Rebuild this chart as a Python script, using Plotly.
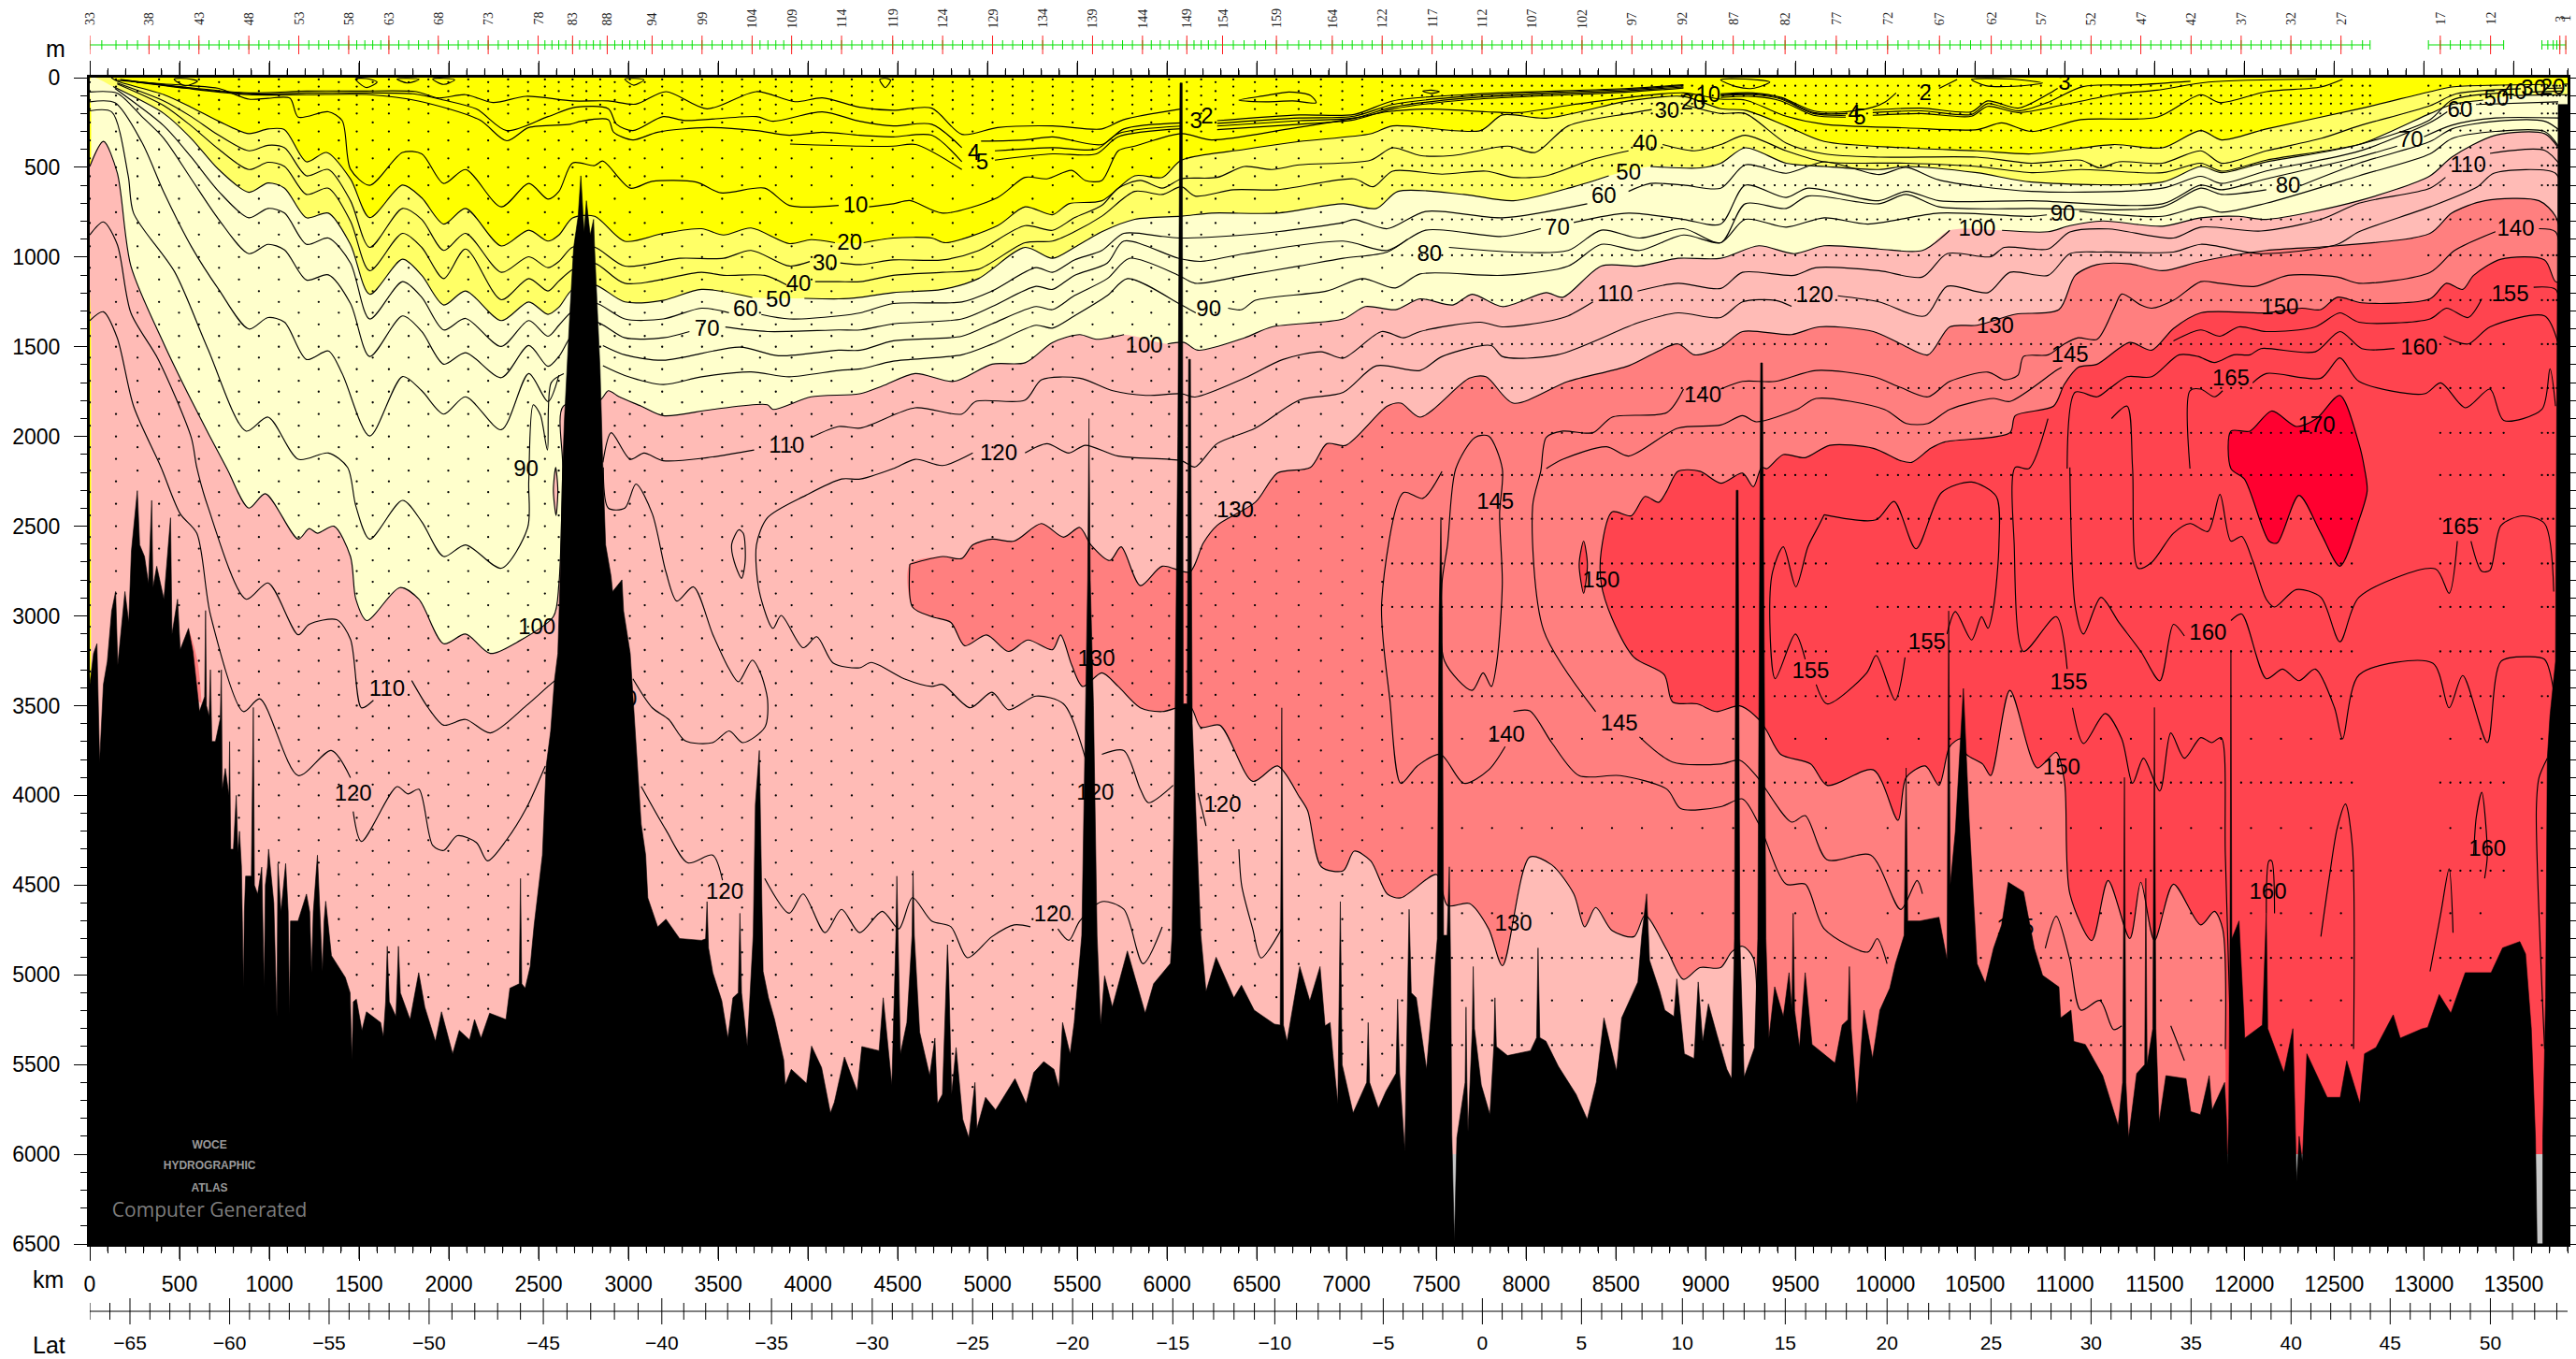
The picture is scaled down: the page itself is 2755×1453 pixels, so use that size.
import numpy as np
import plotly.graph_objects as go

# ---------- colours ----------
BRIGHT, MID, PALE, PINK, SALMON, RED, CRIMSON, GREY = ("#FFFF00", "#FFFF66", "#FFFFCC", "#FFBBB6",
                                                        "#FF7F7F", "#FF444F", "#FF0030", "#C8C8C8")
# ---------- isolines (km, depth m); None = gap in the drawn line ----------
C2 = [(170,10),(500,50),(886,85),(1207,75),(1500,75),(1818,78),(1941,113),(2093,95),(2246,139),(2430,104),(2689,130),(2888,130),(3041,148),(3209,78),(3438,174),(3713,78),(3927,134),(4080,113),(4288,165),(4475,182),(4689,170),(4857,316),(5056,278),(5362,269),(5637,286),(5759,234),(6080,174),None,(6279,240),(6737,208),(7042,205),(7256,130),(7654,95),(8570,60),(8876,40),None,(9083,90),(9265,85),(9420,110),(9600,185),(9780,190),(9930,165),(10000,135),(10060,85),None,(10300,60),(10400,10)]
C3 = [(200,15),(520,55),(886,90),(1207,85),(1500,85),(1800,90),(1971,125),(2154,175),(2322,295),(2552,217),(2705,165),(2888,173),(2934,260),(3025,295),(3194,217),(3316,239),(3713,217),(3805,243),(4080,191),(4288,243),(4475,269),(4689,260),(4857,390),None,(4964,354),(5209,347),(5362,330),(5637,373),(5759,286),(6080,252),None,(6279,255),(6737,225),(7042,215),(7256,150),(7654,105),(8570,65),(8876,45),None,(9083,95),(9265,90),(9420,115),(9600,195),(9780,200),None,(9930,180),(10200,170),(10480,190),(10570,130),(10740,170),(10910,90),(10960,60)]
C4 = [(230,20),(540,60),(886,95),(1207,95),(1560,95),(1830,130),(2170,235),(2322,352),(2445,278),(2674,260),(2735,243),(2888,234),(2918,304),(3025,347),(3163,304),(3438,278),(3713,295),(3896,321),(4080,304),(4288,321),(4475,330),(4689,321),(4857,469),None,(5041,408),(5362,390),(5606,399),(5728,312),(6080,270),None,(6279,270),(6737,240),(7042,225),(7256,165),(7654,115),(8570,72),(8876,52),None,(9083,100),(9265,95),(9420,120),(9600,200),(9780,210),None,(9930,195),(10200,185),(10480,205),(10570,145),(10740,185),(10900,140),(11100,50),(11400,40),(11700,20)]
C5 = [(3900,370),(4292,382),(4475,382),(4600,373),(4857,512),None,(5041,460),(5362,425),(5606,425),(5728,330),(6080,285),None,(6279,290),(6737,260),(7042,235),(7256,175),(7654,125),(8570,80),(8876,58),None,(9083,110),(9265,105),(9420,130),(9600,210),(9780,220),None,(9930,210),(10200,200),(10480,215),(10570,160),(10740,195),(11000,150),(11300,90),(11514,70),(11800,25),(12400,8)]
C10 = [(153,15),(413,35),(565,45),(718,60),(886,120),(993,115),(1115,115),(1161,220),(1329,190),(1406,240),(1452,510),(1559,600),(1742,417),(1849,425),(1971,590),(2093,512),(2292,720),(2445,590),(2552,677),(2613,634),(2689,475),(2812,490),(2858,465),(3010,616),(3132,578),(3377,582),(3514,642),(3759,616),(3896,712),(4171,712),None,(4340,720),(4475,703),(4567,685),(4750,755),(5056,668),(5209,556),(5331,564),(5469,517),(5545,573),(5637,573),(5728,408),(5820,382),(6080,312),(6248,347),(6676,286),(7042,226),(7226,190),(7470,175),(7776,190),(7959,195),(8265,150),(8570,110),(8876,85),(9084,120),(9220,125),(9448,215),(9660,260),(10116,280),(10511,290),(10648,252),(10815,300),(11089,234),(11514,220),(11757,95),(11864,139),(12122,78),(12426,52),(12547,9)]
C20 = [(120,0),(153,20),(413,95),(565,165),(718,243),(886,312),(993,286),(1085,290),(1207,469),(1319,417),(1452,565),(1559,780),(1742,599),(1849,670),(1971,816),(2093,729),(2292,938),(2445,850),(2552,911),(2613,877),(2689,782),(2812,773),(2980,912),(3194,868),(3407,842),(3530,877),(3683,838),(3896,925),(4017,903),(4150,920),None,(4310,920),(4475,894),(4689,894),(4766,920),(5056,825),(5209,720),(5362,764),(5453,703),(5637,686),(5820,547),(5973,556),(6080,460),(6431,400),(6737,356),(7134,313),(7256,269),(7745,295),(7867,208),(8112,226),(8570,130),(8876,105),(9084,173),(9220,182),(9448,269),(9660,356),(10116,391),(10511,408),(10815,425),(11271,373),(11544,391),(11757,295),(11873,347),(12122,286),(12638,174),(13034,78),(13155,52),(13400,42),(13690,38),None,(13770,38),(13800,36)]
C30 = [(153,30),(413,130),(565,217),(718,321),(886,408),(993,377),(1085,391),(1207,547),(1329,512),(1452,686),(1559,946),(1742,729),(1849,790),(1971,963),(2093,868),(2292,1085),(2445,998),(2552,1059),(2613,1024),(2689,945),(2812,945),(2980,1050),(3285,1007),(3530,1007),(3683,963),(3896,1050),(4010,1025),None,(4180,1033),(4292,1042),(4475,1016),(4750,1016),(4949,964),(5209,825),(5362,851),(5484,781),(5637,712),(5728,616),(5851,573),(5973,616),(6080,564),(6279,556),(6431,495),(6584,512),(6737,486),(7134,460),(7256,391),(7409,434),(7592,434),(7898,382),(8051,417),(8234,269),(8570,200),(8700,178),None,(8876,150),(9084,200),(9220,200),(9448,365),(9660,425),(9964,443),(10511,443),(10815,477),(11089,460),(11195,503),(11301,469),(11544,477),(11757,408),(11873,477),(12122,408),(12426,339),(12638,269),(13034,156),(13180,90),(13540,62),None,(13680,60),(13770,58)]
C40 = [(153,35),(413,156),(565,269),(718,399),(886,512),(993,472),(1085,495),(1207,651),(1329,616),(1452,800),(1559,1076),(1742,868),(1849,946),(1971,1120),(2093,955),(2292,1238),(2445,1120),(2552,1189),(2613,1133),(2689,1070),(2812,1035),(2980,1146),(3407,1085),(3530,1102),(3759,1102),(3880,1155),None,(4040,1137),(4171,1137),(4292,1137),(4475,1102),(4750,1085),(4949,1068),(5209,920),(5362,911),(5484,859),(5637,772),(5820,634),(5973,651),(6080,608),(6156,660),(6370,625),(6614,625),(7042,564),(7149,608),(7256,521),(7532,538),(7776,521),(7929,556),(8112,547),(8357,460),(8570,408),None,(8760,373),(8937,408),(9084,373),(9220,321),(9448,408),(9660,469),(10116,477),(10511,495),(10815,530),(11089,512),(11544,530),(11757,477),(11873,521),(12122,460),(12638,373),(13034,234),(13155,125),(13430,85),None,(13590,80),(13770,75)]
C50 = [(130,50),(413,200),(565,339),(718,512),(886,639),(993,587),(1085,616),(1207,781),(1329,755),(1452,930),(1559,1207),(1742,1012),(1849,1102),(1971,1267),(2093,1189),(2292,1354),(2445,1250),(2552,1319),(2613,1279),(2689,1180),(2812,1155),(2980,1250),(3194,1241),(3407,1180),(3690,1225),None,(3980,1230),(4171,1233),(4292,1224),(4475,1198),(4750,1180),(4949,1120),(5209,946),(5362,1007),(5484,946),(5637,859),(5820,790),(6080,772),(6248,755),(6614,755),(6981,703),(7165,729),(7286,634),(7654,651),(7929,686),(8265,608),(8460,547),None,(8692,495),(8968,503),(9084,477),(9220,391),(9448,477),(9660,495),(9964,512),(10116,495),(10511,530),(10815,582),(11544,582),(11757,495),(11873,530),(12122,470),(12638,373),(13034,200),(13155,150),(13330,125),None,(13500,100),(13770,95),(13800,95)]
C60 = [(140,60),(413,269),(565,443),(718,634),(886,781),(993,729),(1085,755),(1207,929),(1329,894),(1452,1033),(1559,1345),(1742,1137),(1849,1224),(1971,1406),(2093,1342),(2292,1498),(2445,1354),(2552,1441),(2613,1380),(2689,1300),(2812,1255),(2980,1345),(3194,1345),(3407,1285),(3560,1310),None,(3740,1320),(3896,1345),(4171,1328),(4292,1311),(4475,1259),(4857,1250),(5025,1189),(5270,1059),(5362,1085),(5484,1016),(5637,963),(5759,868),(5973,885),(6080,894),(6309,885),(6614,859),(6981,807),(7042,790),(7226,842),(7440,746),(7867,781),(8340,703),None,(8570,634),(8692,590),(8876,599),(9084,616),(9220,486),(9448,533),(9660,469),(9964,540),(10116,500),(10299,570),(10815,634),(11544,616),(11757,550),(11873,590),(12122,520),(12638,410),(13034,250),(13130,190),None,(13290,150),(13748,135)]
C70 = [(0,80),(153,87),(290,217),(413,339),(565,564),(718,790),(886,981),(993,929),(1085,960),(1207,1128),(1329,1099),(1452,1259),(1559,1554),(1742,1328),(1849,1415),(1971,1597),(2093,1533),(2292,1672),(2445,1493),(2552,1609),(2613,1554),(2689,1430),(2812,1360),(2980,1450),(3194,1450),(3340,1415),None,(3540,1390),(3774,1415),(4171,1406),(4292,1406),(4475,1372),(4857,1345),(5025,1276),(5270,1163),(5362,1180),(5484,1102),(5667,1033),(5759,911),(6065,1007),(6187,1024),(6431,981),(6981,911),(7226,963),(7440,850),(7867,885),(8081,842),None,(8265,807),(8570,755),(8876,790),(9084,816),(9220,599),(9448,668),(9569,616),(9964,686),(10116,634),(10299,686),(10815,686),(11544,703),(11757,599),(11873,625),(12122,564),(12638,443),(12851,382),None,(13000,330),(13155,265),(13400,225),(13748,225)]
C80 = [(0,135),(140,140),(290,360),(413,640),(565,940),(718,1180),(886,1401),(993,1337),(1085,1363),(1207,1571),(1329,1523),(1406,1650),(1559,1997),(1742,1666),(1849,1745),(1971,1875),(2093,1779),(2292,1962),(2445,1649),(2552,1805),(2613,1658),None,(2858,1493),(2980,1545),(3194,1575),(3620,1502),(3835,1550),(4171,1519),(4292,1519),(4475,1467),(4857,1441),(5025,1372),(5270,1276),(5362,1293),(5484,1215),(5667,1120),(5790,1007),(6065,1102),(6156,1146),(6431,1102),(6737,1050),(6981,1007),(7226,972),(7340,900),None,(7570,946),(7929,972),(8234,963),(8418,850),(8632,894),(8876,842),(9084,920),(9220,703),(9448,729),(9569,660),(9964,703),(10116,651),(10299,720),(10815,729),(11544,720),(11757,616),(11873,651),(12122,625),None,(12320,599),(12638,477),(13034,356),(13155,286),(13398,243),(13672,243),(13763,300)]
C90 = [(0,185),(122,191),(214,547),(244,755),(474,1085),(657,1510),(871,1970),(993,1892),(1161,2127),(1329,2092),(1436,2172),(1482,2388),(1559,2572),(1742,2356),(1849,2475),(1971,2669),(2093,2604),(2292,2734),(2439,2507),(2445,2248),(2470,1823),(2510,1880),(2549,2075),(2570,1700),(2640,1650),None,(2858,1606),(2980,1660),(3194,1710),(3407,1667),(3683,1640),(3896,1667),(4171,1632),(4292,1623),(4475,1580),(4857,1545),(5025,1485),(5270,1380),(5362,1396),(5484,1328),(5667,1215),(5780,1120),(6080,1267),(6160,1311),None,(6340,1285),(6416,1293),(6492,1241),(6890,1189),(7088,1120),(7272,1172),(7409,1094),(7867,1102),(8234,1050),(8418,929),(8632,963),(8876,877),(9084,920),(9220,790),(9448,833),(9660,781),(9903,816),(10299,755),(10815,773),(10900,765),None,(11080,745),(11544,773),(11757,720),(11873,750),(12122,700),(12638,547),(13034,425),(13155,340),(13398,300),(13672,300),(13748,380)]
C100 = [(0,495),(76,355),(153,530),(229,1050),(413,1484),(565,1797),(764,2179),(886,2399),(978,2319),(1161,2572),(1222,2513),(1268,2539),(1360,2500),(1452,2669),(1482,2907),(1543,3026),(1727,2842),(1833,2907),(1971,3155),(2093,3101),(2231,3209),(2384,3144),(2582,3004),(2613,2820),(2634,2172),(2637,1831),(2842,1797),(2888,1745),(2949,1779),(3071,1831),(3194,1884),(3469,1849),(3774,1823),(3805,1849),(4018,1779),(4288,1762),(4414,1719),(4597,1649),(4811,1693),(5025,1597),(5209,1589),(5362,1476),(5514,1432),(5606,1458),(5760,1432),None,(6003,1484),(6095,1476),(6171,1519),(6431,1450),(6584,1389),(6981,1345),(7104,1276),(7272,1293),(7409,1233),(7592,1267),(7699,1207),(7867,1276),(8112,1198),(8204,1224),(8418,1050),(8632,1050),(8845,1007),(9083,1007),(9296,937),(9493,981),(9660,937),(9964,955),(10207,963),(10359,851),None,(10650,851),(10907,859),(11028,825),(11210,799),(11544,828),(11757,781),(11970,773),(12122,790),(12638,686),(13034,547),(13155,443),(13398,321),(13672,312),(13748,391)]
C110A = [(0,877),(76,804),(153,929),(229,1311),(382,1571),(565,2005),(596,2172),(657,2388),(871,2907),(993,2816),(1161,3105),(1222,3047),(1375,3021),(1452,3130),(1513,3512),(1580,3470),None,(1793,3360),(1885,3512),(1971,3609),(2093,3577),(2231,3652),(2430,3501),(2552,3393),(2591,3360)]
C110B = [(3025,3350),(3133,3512),(3225,3577),(3316,3696),(3469,3706),(3561,3641),(3637,3706),(3760,3620),(3775,3469),(3735,3317),(3690,3246),(3613,3367),(3561,3296),(3469,3101),(3362,2838),(3270,2917),(3209,2755),(3133,2431),(3042,2265),(2980,2399),(2888,2399),(2860,2172)]
C110C = [(3575,2600),(3615,2520),(3640,2540),(3650,2700),(3630,2790),(3590,2700),(3575,2600)]
C110D = [(2858,2144),(2904,1979),(3010,2127),(3087,2092),(3194,2135),(3438,2118),(3700,2075),None,(4018,2005),(4171,1944),(4292,1953),(4597,1840),(4857,1875),(4934,1805),(5209,1797),(5301,1684),(5514,1675),(5698,1745),(5881,1771),(6080,1762),(6156,1780),(6431,1675),(6645,1571),(6859,1528),(6981,1563),(7195,1415),(7317,1450),(7409,1415),(7745,1363),(7867,1389),(8142,1354),(8234,1328),(8372,1250),None,(8620,1190),(8845,1146),(9084,1175),(9205,1085),(9493,1102),(9615,1059),(9964,1076),(10207,1111),(10344,981),(10587,998),(10663,946),(10907,955),(11028,860),(11241,843),(11605,894),(11757,833),(12092,855),(12426,790),(12638,700),(13034,616),(13120,556),None,(13368,422),(13672,405),(13765,495)]
C120A = [(0,1354),(76,1305),(153,1450),(244,1831),(397,2172),(504,2431),(596,2539),(672,2993),(856,3533),(947,3462),(1161,3890),(1345,3750),(1452,3901),None,(1467,4090),(1513,4257),(1711,3951),(1772,3992),(1833,3966),(1910,4279),(1971,4307),(2047,4225),(2154,4264),(2215,4365),(2322,4247),(2430,4074),(2537,3836)]
C120B = [(3071,3950),(3209,4193),(3331,4376),(3469,4333),(3524,4473),None,(3759,4463),(3896,4657),(3973,4549),(4095,4765),(4187,4635),(4288,4765),(4414,4646),(4506,4744),(4582,4570),(4689,4700),(4796,4732),(4888,4905),(5025,4787),(5148,4722),(5239,4732),None,(5392,4744),(5453,4808),(5514,4700),(5637,4592),(5759,4635),(5866,4938),(5973,4733)]
C120C = [(6034,3944),(5896,4041),(5851,3966),(5759,3750),(5637,3771),None,(5545,3793),(5423,3490),(5270,3447),(5117,3523),(5025,3425),(4903,3512),(4750,3382),(4689,3393),(4536,3350),(4353,3259),(4288,3289),(4141,3263),(4049,3116),(3973,3177),(3851,2997),(3805,3069),(3729,2864),(3713,2604),(3774,2453),(3988,2328),(4187,2237),(4292,2237),(4475,2179),(4598,2127),(4750,2162),(4918,2092),None,(5209,2092),(5331,2040),(5453,2092),(5545,2049),(5728,2109),(6080,2135),(6156,2170),(6278,2040),(6492,1953),(6737,1797),(6981,1754),(7165,1606),(7409,1632),(7532,1554),(7806,1493),(7867,1554),(8173,1545),(8632,1363),(8845,1311),(9083,1337),(9205,1250),(9388,1241),(9478,1275),None,(9736,1216),(9964,1250),(10222,1328),(10344,1163),(10572,1198),(10694,1085),(10907,1102),(11028,981),(11210,972),(11605,972),(11757,929),(12092,981),(12517,929),(12638,859),(13034,720),(13300,607),(13389,533),(13733,533),(13765,650)]
C120D = [(6172,3987),(6217,4171),None,(6400,4300),(6416,4506),(6477,4744),(6523,4906),(6640,4740)]
C130 = [(4567,2712),(4750,2669),(4857,2680),(4918,2604),(5025,2572),(5148,2583),(5300,2485),(5423,2561),(5514,2507),(5576,2604),(5682,2691),(5744,2615),(5851,2831),(5973,2723),(6126,2755),(6202,2593),(6278,2496),(6492,2366),(6615,2204),(6798,2172),(6890,2040),(6996,2049),(7226,1831),(7302,1814),(7409,1892),(7684,1675),(7776,1667),(7928,1814),(8234,1693),(8570,1606),(8845,1484),(8937,1545),(9084,1502),(9205,1415),(9478,1432),(9630,1389),(9934,1415),(10086,1484),(10238,1545),(10359,1389),(10511,1380),(10724,1319),(10967,1293),(11058,1102),(11180,1042),(11362,1038),(11544,1076),(11757,1024),(12122,963),(12517,937),(13034,868),(13155,755),(13338,686),(13641,686),(13733,773),(13778,963),(13790,2000),(13790,4000),(13790,5600),(13700,6200),(13400,6200),(13000,6200),(12000,6200),(11000,6200),(10000,6200),(9500,6200),(9300,5700),(9281,5392),(9265,4906),(9205,4841),(9144,4873),(9083,4960),(8967,4960),(8876,5025),(8784,4862),(8662,4668),(8601,4787),(8479,4754),(8387,4625),(8326,4733),(8265,4549),(8142,4387),(8020,4344),(7868,4949),(7791,4744),(7684,4603),(7562,4614),(7501,4441),(7302,4571),(7226,4549),(7134,4365),(7042,4311),(6981,4420),(6859,4398),(6783,4085),(6737,4009),(6615,3836),(6477,3922),(6294,3609),(6187,3620),(6126,3501),(5973,3533),(5851,3512),(5728,3393),(5637,3317),(5530,3393),(5469,3274),(5407,3106),(5362,3188),(5224,3134),(5117,3198),(4995,3106),(4873,3166),(4796,3036),(4689,3004),(4582,2950),(4567,2712)]
C150 = [(13790,1137),(13733,1137),(13672,1016),(13429,1012),(13277,1102),(13216,1180),(13125,1146),(13034,1233),(12654,1255),(12517,1224),(12426,1293),(12320,1285),(12122,1311),(11757,1311),(11605,1398),(11484,1519),(11362,1476),(11180,1597),(11074,1615),(10997,1710),(10937,1831),(10724,1884),(10694,1979),(10329,2031),(10253,2066),(10147,2144),(10086,2135),(9934,2066),(9691,2049),(9554,2118),(9432,2101),(9341,2179),(9311,2172),(9265,2280),(9205,2204),(9084,2260),(8968,2194),(8845,2194),(8784,2302),(8738,2367),(8662,2334),(8585,2442),(8479,2420),(8418,2637),(8418,2820),(8479,3015),(8601,3231),(8769,3328),(8815,3479),(8952,3490),(9059,3533),(9189,3501),(9296,3577),(9341,3642),(9417,3771),(9584,3825),(9676,3944),(9934,3858),(10071,4139),(10116,3901),(10223,3836),(10299,3944),(10359,3728),(10420,3685),(10451,3771),(10542,3825),(10587,3890),(10694,3415),(10846,3847),(10952,3760),(10998,3922),(11028,4549),(11150,4809),(11241,4474),(11362,4798),(11423,4484),(11499,4809),(11605,4495),(11757,4722),(11833,4646),(11879,4744),(11894,5414),(11897,5800),(11900,6200),(12000,6200),(12500,6200),(13000,6200),(13500,6200),(13790,6200),(13790,5000),(13790,3500),(13790,2000),(13790,1137)]
C150_LENS = [(8295,2712),(8320,2583),(8341,2712),(8320,2874),(8295,2712)]
C100_LENS = [(2582,2300),(2595,2172),(2607,2300),(2597,2440),(2582,2300)]
C130_SLIVER = [(550,3080),(600,3250),(640,3800),(652,4420),(630,3500),(570,3450),(550,3080)]
C170 = [(11925,1970),(12031,1970),(12152,1858),(12289,1944),(12402,1900),(12532,1771),(12638,2040),(12669,2179),(12684,2302),(12639,2464),(12532,2723),(12426,2539),(12304,2328),(12183,2593),(12137,2583),(12000,2237),(11925,2179),(11925,1970)]
C145A = [(7562,2604),(7531,2820),(7546,3253),(7699,3415),(7760,3317),(7806,3393),(7837,3253),(7867,2820),(7852,2431),(7867,2179),(7791,1998),(7715,2005),(7608,2179),(7562,2604)]
C140A = [(7531,2194),(7424,2345),(7317,2312),(7195,2928),(7241,3469),(7302,3933),(7394,3836),(7522,3771),(7654,3933),(7791,3858),(7883,3728),None,(7929,3533),(8020,3529),(8142,3706),(8295,3890),(8524,3890),(8784,3966),(8861,4074),(9084,4063),(9205,4020),(9296,4160),(9448,4495),(9554,4495),(9660,4744),(9903,4873),(9955,4798),(10010,4938)]
C145B = [(10207,4549),(10177,4474),(10086,4636),(9919,4333),(9676,4359),(9554,4113),(9478,4149),(9281,3890),(9189,3804),(9083,3825),(8815,3814),(8631,3674),None,(8387,3533),(8097,3080),(8036,2388),(8081,2194),(8112,2005),(8204,1970),(8372,1979),(8479,1892),(8784,1866),(8876,1736),None,(9083,1736),(9205,1693),(9387,1693),(9615,1632),(9934,1667),(10086,1727),(10238,1779),(10359,1693),(10572,1641),(10663,1684),(10739,1658),(10770,1554),(10907,1545),(10997,1484),(11074,1450),(11180,1458),(11271,1293),(11317,1206),(11423,1267),(11484,1285),(11605,1241),(11757,1137),(11864,1146),(12061,1163),(12243,1102),(12517,1111),(12638,1146),(13034,1085),(13171,963),(13398,859),None,(13641,842),(13733,859),(13763,1050)]
C145C = [(8112,2179),(8204,2127),(8448,2057),(8570,2109),(8845,1953),(9084,1936),(9205,1884),(9281,1918),(9508,1849),(9615,1788),(9995,1849),(10116,1927),(10238,1927),(10359,1849),(10603,1788),(10694,1805),(10952,1632),(10982,1615)]
C155A = [(9660,2436),(9949,2464),(10049,2362),(10171,2626),(10314,2312),(10481,2254),(10618,2334),(10633,2604),(10603,2950),(10572,3069),(10536,3004),(10481,3134),(10390,2976),(10344,3101),None,(10110,3231),(10055,3469),(9949,3220),(9897,3317),(9676,3490),(9615,3382),None,(9554,3242),(9499,3101),(9387,3350),(9357,3036),(9372,2755),(9432,2615),(9502,2838),(9569,2615),(9630,2496),(9660,2436)]
C155B = [(10906,1901),(10800,2179),(10724,2172),(10718,2604),(10770,3198),(10952,3004),(11013,3296),None,(11043,3512),(11104,3711),(11225,3544),(11317,3685),(11377,3933),(11438,3793),(11529,3976),(11590,3652),(11666,3793),(11757,3678),(11818,3706),(11870,3678),(11894,4333),(11925,5413)]
C155C = [(11605,1467),(11757,1406),(11864,1441),(11970,1389),(12122,1415),(12395,1389),(12532,1311),(12638,1363),(13034,1345),(13125,1285),(13246,1337),(13322,1233),None,(13611,1168),(13733,1180),(13763,1328)]
C160A = [(11013,2179),(11058,1753),(11180,1779),(11256,1727),(11347,1667),(11484,1667),(11636,1545),(11742,1554),(11833,1588),(11940,1545),(12031,1545),(12092,1510),(12395,1528),(12532,1415),(12654,1510),(12836,1510),None,(13110,1441),(13246,1484),(13368,1389),(13672,1328),(13748,1484)]
C160B = [(11028,2172),(11058,2950),(11104,3101),(11201,2896),(11301,3036),(11423,3198),(11529,3361),(11605,3047),(11666,3112),None,(11925,3026),(11985,2989),(12122,3350),(12213,3296),(12304,3361),(12395,3296),(12502,3512),(12547,3685),(12639,3328),(13049,3263),(13140,3512),(13216,3332),(13353,3706),(13429,3253),(13581,3227),(13672,3242),(13727,3447)]
C165A = [(11260,1900),(11347,1831),(11377,2172),(11408,2734),(11484,2701),(11605,2539),(11697,2485),(11797,2529),(11864,2323),(11925,2583),(11985,2557),(12046,2691),(12122,2907),(12168,2950),(12289,2853),(12426,2896),(12532,3144),(12638,2896),(13064,2738),(13140,2874),(13186,2583),None,(13262,2583),(13322,2751),(13368,2745),(13429,2496),(13550,2442),(13672,2485),(13723,2864)]
C165B = [(11697,2179),(11697,1745),(11757,1736),(11833,1779),(11879,1745),None,(12046,1701),(12122,1649),(12426,1675),(12532,1562),(12638,1693),(13003,1762),(13094,1701),(13231,1840),(13368,1736),(13444,1910),(13657,1849),(13702,1623),(13733,1831)]
PEAK1 = [(12426,4787),(12472,4463),(12517,4182),(12563,4048),(12602,4290),(12608,5413)]
PEAK2 = [(13277,4333),(13292,4117),(13322,3983),(13353,4333),(13338,4463)]
PEAK3 = [(13034,4981),(13094,4657),(13140,4409),(13162,4765)]
PEAK4 = [(12122,4657),(12137,4365),(12152,4365),(12168,4657)]
PEAK5 = [(13672,5413),(13626,4074),(13641,3901),(13687,3793)]
DEEP1 = [(10891,4852),(10952,4674),(11028,4917),(11089,5197),(11195,5143),(11271,5305),(11317,5284)]
DEEP2 = [(11590,5284),(11666,5478)]
# small closed cells near the surface
CELL_A = [(470,8),(530,45),(600,20),(540,5),(470,8)]
CELL_B = [(1480,8),(1540,55),(1600,25),(1540,5),(1480,8)]
CELL_C = [(1711,8),(1770,30),(1834,10),(1770,4),(1711,8)]
CELL_D = [(1910,8),(1970,38),(2032,12),(1970,4),(1910,8)]
CELL_E = [(2980,8),(3030,42),(3086,12),(3030,4),(2980,8)]
CELL_F = [(4400,10),(4430,55),(4460,15),(4430,4),(4400,10)]
CELL_G = [(6400,125),(6550,100),(6680,80),(6800,100),(6830,140),(6700,130),(6550,135),(6400,125)]
CELL_H = [(7424,75),(7470,70),(7516,78),(7470,88),(7424,75)]
CELL_I = [(9083,12),(9170,50),(9260,60),(9357,25),(9220,8),(9083,12)]
CELL_J = [(10480,10),(10560,45),(10720,48),(10876,30),(10700,8),(10480,10)]
ISOLINES = [C2,C3,C4,C5,C10,C20,C30,C40,C50,C60,C70,C80,C90,C100,C110A,C110B,C110C,C110D,C120A,C120B,C120C,C120D,
            C145A,C140A,C145B,C145C,C155A,C155B,C155C,C160A,C160B,C165A,C165B,PEAK1,PEAK2,PEAK3,PEAK4,PEAK5,DEEP1,DEEP2,
            CELL_A,CELL_B,CELL_C,CELL_D,CELL_E,CELL_F,CELL_G,CELL_H,CELL_I,CELL_J]
SEA_FLOOR_EDGE = [(13790,1500),(13790,4000),(13790,6500),(13500,6500),(12000,6500),(10000,6500),(8000,6500),(6000,6500),(4000,6500),(2000,6500),(500,6500),(8,6500),(8,4000),(8,1500)]

# ---------- bottom profile (km, depth m) ----------
BOTTOM = [(0,3382),(21,3209),(40,3155),(55,3814),(76,3382),(98,3253),(122,2972),(144,2864),(156,3274),(175,3058),(196,2864),(217,3036),(232,2637),(265,2302),(278,2604),(305,2669),(327,2820),(345,2356),(352,2842),(373,2723),(413,2907),(450,2453),(458,3101),(489,2907),(504,3188),(550,3069),(575,3200),(611,3533),(640,3450),(645,2970),(650,3500),(665,3560),(672,3300),(680,3700),(700,3700),(727,3570),(733,3300),(738,3966),(755,3850),(775,4000),(779,3700),(785,4300),(800,4300),(816,4000),(825,4320),(834,4200),(845,4400),(850,4700),(856,5068),(861,4650),(868,4450),(900,4450),(911,3510),(917,4500),(935,4550),(958,4400),(971,5067),(978,4500),(990,4400),(996,4300),(1025,4600),(1042,5232),(1048,4380),(1065,4650),(1091,4380),(1105,4650),(1112,5223),(1118,4700),(1160,4700),(1207,4550),(1225,4650),(1235,4988),(1245,4650),(1268,4333),(1285,4700),(1296,4980),(1305,4700),(1314,4590),(1346,4893),(1423,5014),(1450,5100),(1460,5475),(1468,5150),(1485,5136),(1516,5310),(1541,5206),(1620,5266),(1635,5345),(1648,5150),(1657,4841),(1668,5150),(1705,5232),(1712,5050),(1719,4841),(1730,5100),(1784,5249),(1832,4988),(1866,5180),(1925,5371),(1959,5206),(2021,5440),(2058,5310),(2115,5362),(2143,5249),(2179,5353),(2227,5214),(2318,5249),(2340,5075),(2392,5050),(2399,4463),(2406,5050),(2425,5075),(2453,4954),(2475,4722),(2521,4333),(2542,3836),(2567,3641),(2588,3360),(2607,3209),(2619,2820),(2634,2172),(2643,1918),(2674,1311),(2695,946),(2720,773),(2735,547),(2753,860),(2766,686),(2787,877),(2806,790),(2812,963),(2827,1311),(2842,1623),(2858,2179),(2873,2604),(2903,2777),(2912,2864),(2964,2799),(2973,2972),(3010,3209),(3056,3901),(3071,4160),(3096,4333),(3108,4571),(3163,4733),(3209,4690),(3285,4798),(3407,4808),(3430,4800),(3438,4592),(3446,4850),(3469,4981),(3470,4988),(3520,5145),(3554,5353),(3582,5128),(3612,5100),(3621,4657),(3630,5100),(3662,5397),(3695,4780),(3707,4052),(3729,3750),(3750,4981),(3780,5128),(3814,5249),(3865,5475),(3873,5614),(3907,5527),(3992,5605),(4020,5397),(4076,5518),(4125,5770),(4147,5710),(4203,5458),(4274,5649),(4300,5400),(4396,5423),(4419,5128),(4467,5614),(4490,4780),(4495,4450),(4502,4780),(4515,5440),(4551,5266),(4580,4780),(4585,4420),(4592,4780),(4622,5319),(4678,5562),(4707,5353),(4721,5718),(4749,5666),(4770,5000),(4777,4832),(4784,5000),(4800,5666),(4825,5405),(4862,5805),(4896,5909),(4930,5600),(4941,5857),(4989,5683),(5045,5753),(5153,5579),(5215,5718),(5257,5545),(5313,5484),(5370,5527),(5398,5631),(5418,5266),(5460,5440),(5483,5266),(5525,4780),(5545,3500),(5558,2800),(5565,1900),(5572,2800),(5590,3500),(5610,4780),(5630,5275),(5652,5006),(5695,5180),(5779,4867),(5878,5214),(5925,5050),(6019,4936),(6028,4780),(6040,4000),(6060,2000),(6072,30),(6084,30),(6090,3490),(6112,3490),(6120,1570),(6130,1570),(6140,3600),(6188,4780),(6217,5093),(6273,4902),(6372,5128),(6414,5058),(6485,5197),(6598,5275),(6630,5280),(6639,3512),(6648,5280),(6668,5371),(6739,4954),(6795,5145),(6852,4954),(6880,5284),(6908,5266),(6923,5440),(6951,5718),(6958,5000),(6965,4592),(6975,5500),(7036,5770),(7112,5600),(7120,5266),(7128,5600),(7177,5744),(7219,5649),(7275,5550),(7284,5136),(7295,5550),(7324,5979),(7340,5100),(7348,4635),(7360,5100),(7388,5128),(7445,5527),(7479,5128),(7505,4800),(7515,3000),(7525,2450),(7532,3000),(7540,4780),(7560,4780),(7572,4398),(7580,5000),(7586,5892),(7600,6491),(7614,5909),(7660,5600),(7665,5180),(7670,5600),(7676,5875),(7700,5300),(7705,4954),(7712,5300),(7750,5614),(7798,5779),(7820,5400),(7826,5128),(7834,5400),(7896,5450),(8024,5423),(8058,5350),(8066,4850),(8076,5350),(8110,5370),(8179,5510),(8278,5666),(8340,5805),(8391,5597),(8433,5240),(8503,5536),(8532,5240),(8622,5040),(8644,4780),(8671,4549),(8687,4919),(8744,5093),(8772,5197),(8823,5232),(8839,5023),(8881,5440),(8935,5466),(8958,5040),(8983,5371),(9015,5162),(9063,5336),(9118,5527),(9144,5579),(9160,4800),(9170,2300),(9180,2300),(9190,4800),(9214,5570),(9272,5405),(9290,4800),(9306,1590),(9316,1590),(9335,4800),(9352,5353),(9384,5067),(9432,5232),(9464,4988),(9480,5200),(9487,4657),(9495,5200),(9522,5405),(9554,4988),(9592,5388),(9720,5492),(9760,5280),(9792,5250),(9800,4954),(9810,5300),(9842,5718),(9881,5197),(9929,5466),(9970,5197),(10025,5075),(10057,4936),(10105,4780),(10116,3847),(10125,4700),(10192,4700),(10299,4679),(10344,4916),(10353,2972),(10362,4500),(10390,4203),(10435,3404),(10466,4117),(10511,4938),(10557,5046),(10603,4852),(10648,4722),(10685,4484),(10770,4538),(10830,4852),(10876,5003),(10967,5068),(10977,5240),(11034,5197),(11050,5371),(11114,5388),(11211,5562),(11297,5840),(11322,5600),(11332,3900),(11340,5600),(11355,5909),(11400,5550),(11445,5500),(11451,4462),(11458,5500),(11490,5300),(11499,3510),(11507,5300),(11525,5822),(11563,5562),(11675,5579),(11701,5762),(11755,5779),(11804,5562),(11820,5753),(11890,5600),(11900,5800),(11906,6060),(11913,5800),(11920,4800),(11925,3190),(11930,4800),(11970,4700),(11996,5214),(12002,5353),(12100,5280),(12122,4657),(12130,5300),(12188,5458),(12220,5545),(12270,5300),(12291,6152),(12305,5900),(12323,6040),(12348,5440),(12461,5683),(12534,5683),(12570,5480),(12643,5718),(12669,5440),(12733,5405),(12829,5223),(12868,5353),(12989,5301),(13021,5293),(13085,5110),(13150,5214),(13230,4988),(13374,4988),(13438,4850),(13534,4815),(13566,4884),(13598,5301),(13621,5909),(13630,6500),(13662,6500),(13662,5909),(13678,5128),(13687,3793),(13702,3555),(13733,3252),(13748,150),(13800,150)]
BOTTOM_X, BOTTOM_Y = [p[0] for p in BOTTOM], [p[1] for p in BOTTOM]

# ---------- contour labels ----------
LABEL_TEXT = ["10","20","30","40","50","60","70","110","90","100","110","120","120","110",
              "4","5","3","2","20","10","30","40","50","60","70","80","90","100","110","140","120",
              "130","145","150","130","145","140","120","120","120","130",
              "2","3","4","5","100","90","80","70","60","50","40","30","20","110","120","130","140","145","150","155","160","165","170",
              "155","155","160","155","165","150","160","160","145"]
LABEL_KM = [4265,4232,4095,3948,3835,3652,3438,3881,2430,2490,1656,1467,3536,2949,
            4925,4970,6162,6223,8930,9013,8784,8662,8570,8433,8173,7461,6232,5872,8494,8983,5062,
            6379,7828,8417,5606,8518,7889,5600,6309,5362,7929,
            10223,10998,9828,9858,10511,10988,12243,12927,13201,13404,13505,13611,13717,13246,9606,10612,13511,11028,12198,13480,12973,11925,12402,
            9584,10232,11797,11022,13201,10982,12131,13353,10724]
LABEL_M = [720,929,1041,1158,1245,1297,1406,2057,2190,3069,3415,3998,4545,3469,
           425,477,252,226,148,104,191,377,538,665,842,990,1297,1502,1215,1780,2101,
           2416,2371,2810,3246,3605,3670,3991,4063,4672,4722,
           95,35,208,231,851,764,611,356,188,127,90,70,64,495,1219,1392,851,1554,1285,1215,1510,1684,1944,
           3317,3155,3101,3376,2513,3851,4545,4307,4744]

# ---------- stations ----------
STATION_KM = [0,67,146,208,266,330,386,442,497,553,608,664,720,775,831,886,942,998,1053,1109,1164,1220,1275,1331,1387,1442,1487,1532,1576,1621,1666,1721,1776,1831,1886,1941,1997,2052,2108,2163,2219,2275,2330,2386,2441,2497,2535,2574,2612,2651,2689,2728,2766,2805,2843,2882,2924,2966,3008,3050,3091,3132,3188,3244,3299,3355,3410,3466,3522,3577,3633,3689,3733,3777,3821,3865,3909,3965,4020,4076,4131,4187,4244,4301,4358,4415,4472,4528,4583,4639,4694,4750,4806,4861,4917,4972,5028,5084,5140,5195,5251,5307,5363,5418,5474,5529,5585,5641,5696,5752,5807,5863,5912,5962,6011,6061,6110,6150,6190,6230,6270,6309,6369,6429,6489,6549,6609,6671,6733,6795,6857,6920,6976,7031,7087,7142,7198,7254,7309,7365,7420,7476,7532,7587,7643,7698,7754,7810,7865,7921,7976,8032,8088,8144,8199,8255,8311,8367,8422,8478,8533,8589,8645,8700,8756,8811,8867,8924,8981,9039,9096,9153,9211,9269,9326,9384,9442,9499,9556,9613,9670,9727,9784,9841,9899,9956,10013,10071,10129,10186,10244,10302,10360,10417,10475,10532,10590,10645,10701,10756,10812,10867,10923,10979,11034,11090,11146,11201,11257,11312,11368,11423,11479,11535,11591,11647,11703,11759,11815,11870,11926,11982,12037,12093,12148,12204,12259,12315,12371,12426,12482,12538,12598,12658,12700,13025,13091,13147,13203,13259,13315,13371,13444,13657,13690,13720,13740,13757,13790]
STATION_LABEL = ["33","38","43","48","53","58","63","68","73","78","83","88","94","99","104","109","114","119","124","129","134","139","144","149","154","159","164","122","117","112","107","102","97","92","87","82","77","72","67","62","57","52","47","42","37","32","27","17","12","3","1"]
STATION_LABEL_KM = [0,330,608,886,1164,1442,1666,1941,2219,2497,2689,2882,3132,3410,3689,3909,4187,4472,4750,5028,5307,5585,5863,6110,6309,6609,6920,7198,7476,7754,8032,8311,8589,8867,9153,9442,9727,10013,10302,10590,10867,11146,11423,11703,11982,12259,12538,13091,13371,13757,13790]
STATION_GROUPS = [(0,12700),(13025,13444),(13657,13790)]
# sampled depth rows
ROWS_EAST = [45,100,145,200,295,390,490,600,790,990,1240,1485,1730,1980,2215,2459,2708,2950,3198,3447,3685,3929,4182,4420,4657,4906,5143,5392]
ROWS_EAST_SPARSE = [3685,4182,4657,5143]
ROWS_WEST_A = [10,50,100,150,200,300,400,500,600,750,875,1000,1125,1250,1375,1500,1625,1750,1875,2000,2125,2250,2375,2500,2625,2750,2875,3000,3125,3250,3375,3500,3625,3750,3875,4000,4125,4250,4375,4500,4625,4750,4875,5000,5125,5250,5375,5500,5625]
ROWS_WEST_B = [25,75,125,175,250,350,450,550,675,810,940,1060,1190,1310,1440,1560,1690,1810,1940,2060,2190,2310,2440,2560,2690,2810,2940,3060,3190,3310,3440,3560,3690,3810,3940,4060,4190,4310,4440,4560,4690,4810,4940,5060,5190,5310,5440,5560]
BLANK_STRETCHES = [(9690,9950),(12650,13030)]

# ---------- km scale ----------
KM_MAJOR = list(range(0, 14000, 500))
KM_MINOR = [k for k in range(0, 13900, 100) if k % 500]

# ---------- latitude scale ----------
LAT_VALUES = [-67,-65,-60,-55,-50,-45,-40,-35,-30,-25,-20,-15,-10,-5,0,5,10,15,20,25,30,35,40,45,50,53]
LAT_KM = [0,224,779,1333,1890,2526,3186,3797,4358,4917,5474,6032,6600,7204,7756,8308,8870,9443,10010,10589,11146,11703,12260,12812,13370,13740]

# ---------- page geometry ----------
W, H = 2755, 1453
LEFT, RIGHT, TOP, BOT = 96, 2746, 83, 1330
M_PER_PX = 6500 / (BOT - TOP)
def row(px):
    return (px - TOP) * M_PER_PX

SMOOTH = 0.8
SPLINE = dict(shape="spline", smoothing=SMOOTH, color="black", width=1.15)
FONT = "Liberation Sans"

def split(pairs):
    return ([None if p is None else p[0] for p in pairs], [None if p is None else p[1] for p in pairs])
def solid(pairs):
    return split([p for p in pairs if p is not None])

fig = go.Figure()
def band(x, y, color, smooth=True):
    line = dict(width=0, color=color)
    if smooth:
        line.update(shape="spline", smoothing=SMOOTH)
    fig.add_trace(go.Scatter(x=x, y=y, mode="lines", fill="toself", fillcolor=color, line=line,
                             hoverinfo="skip", showlegend=False))

band([0,13800,13800,0,0], [0,0,6500,6500,0], BRIGHT, smooth=False)
x, y = solid(C20 + SEA_FLOOR_EDGE + [(8,200),(8,0)] + C20[:1])
band(x, y, MID)
x, y = solid(C50 + SEA_FLOOR_EDGE + [(8,200),(8,0)] + C50[:1])
band(x, y, PALE)
x, y = solid(C100 + SEA_FLOOR_EDGE + C100[:1])
band(x, y, PINK)
for pairs, color in [(C130, SALMON), (C130_SLIVER, SALMON), (C150, RED), (C150_LENS, RED), (C100_LENS, PINK), (C170, CRIMSON)]:
    x, y = solid(pairs)
    band(x, y, color)
band([0,13800,13800,0,0], [6000,6000,6500,6500,6000], GREY, smooth=False)

for pairs in ISOLINES + [C130[:C130.index((13778,963)) + 1], C130[C130.index((9281,5392)):], C150[:C150.index((11894,5414)) + 1], C170, C150_LENS, C100_LENS]:
    x, y = split(pairs)
    fig.add_trace(go.Scatter(x=x, y=y, mode="lines", line=SPLINE, hoverinfo="skip", showlegend=False))

# sampled points
bottom_at = lambda k: np.interp(k, BOTTOM_X, BOTTOM_Y)
dots_x, dots_y = [], []
for i, k in enumerate(STATION_KM):
    if k >= 7200:
        rows = ROWS_EAST
    elif i % 2:
        continue
    else:
        rows = ROWS_WEST_A if i % 4 else ROWS_WEST_B
    for d in rows:
        if d >= bottom_at(k) - 40:
            continue
        if k >= 7200 and d > 1300 and any(a < k < b for a, b in BLANK_STRETCHES):
            continue
        if k >= 7200 and d in ROWS_EAST_SPARSE and i % 3:
            continue
        dots_x.append(k)
        dots_y.append(d)
fig.add_trace(go.Scatter(x=dots_x, y=dots_y, mode="markers", marker=dict(size=2.3, color="black"),
                         hoverinfo="skip", showlegend=False))
fig.add_trace(go.Scatter(x=LABEL_KM, y=LABEL_M, text=LABEL_TEXT, mode="text", textposition="middle center",
                         textfont=dict(family=FONT, size=24, color="black"), hoverinfo="skip", showlegend=False))
fig.add_trace(go.Scatter(x=BOTTOM_X + [13800, 0, 0], y=BOTTOM_Y + [6500, 6500, BOTTOM_Y[0]], mode="lines", fill="toself",
                         fillcolor="black", line=dict(color="black", width=0.6), hoverinfo="skip", showlegend=False))
fig.add_trace(go.Scatter(x=[667,667,667], y=[5953,6067,6192], mode="text",
                         text=["<b>WOCE</b>","<b>HYDROGRAPHIC</b>","<b>ATLAS</b>"],
                         textfont=dict(family="Liberation Sans", size=12, color="#9a9a9a"), hoverinfo="skip", showlegend=False))
fig.add_trace(go.Scatter(x=[667], y=[6323], mode="text", text=["Computer Generated"],
                         textfont=dict(family="Open Sans", size=21, color="#7d7d7d"), hoverinfo="skip", showlegend=False))

# station row on the outer band
sy = row(48)
gx, gy = [], []
for a, b in STATION_GROUPS:
    gx += [a, b, None]; gy += [sy, sy, None]
for k in STATION_KM:
    gx += [k, k, None]; gy += [row(43), row(53), None]
fig.add_trace(go.Scatter(x=gx, y=gy, xaxis="x2", yaxis="y2", mode="lines", line=dict(color="#00E000", width=1), hoverinfo="skip", showlegend=False))
rx, ry = [], []
for k in STATION_LABEL_KM:
    rx += [k, k, None]; ry += [row(38), row(58), None]
fig.add_trace(go.Scatter(x=rx, y=ry, xaxis="x2", yaxis="y2", mode="lines", line=dict(color="#FF2020", width=1), hoverinfo="skip", showlegend=False))

# latitude scale
lx, ly = [0, 13800, None], [row(1402), row(1402), None]
for lat in range(-67, 54):
    k = float(np.interp(lat, LAT_VALUES, LAT_KM))
    h = 14 if lat % 5 == 0 else 9
    lx += [k, k, None]; ly += [row(1402 - h), row(1402 + h), None]
fig.add_trace(go.Scatter(x=lx, y=ly, xaxis="x2", yaxis="y2", mode="lines", line=dict(color="black", width=1), hoverinfo="skip", showlegend=False))
shown = [(v, k) for v, k in zip(LAT_VALUES, LAT_KM) if v % 5 == 0]
fig.add_trace(go.Scatter(x=[k for v, k in shown], y=[row(1438)] * len(shown), xaxis="x2", yaxis="y2", mode="text",
                         text=[str(v).replace("-", "\u2212") for v, k in shown],
                         textfont=dict(family=FONT, size=21, color="black"), hoverinfo="skip", showlegend=False))

annotations = [dict(x=k, y=row(20), xref="x2", yref="y2", text=t, textangle=-90, showarrow=False,
                    xanchor="center", yanchor="middle", font=dict(family="Liberation Serif", size=14, color="#222222"))
               for t, k in zip(STATION_LABEL, STATION_LABEL_KM)]
for t, px, py in [("m", 59, 52), ("km", 51, 1368), ("Lat", 52, 1438)]:
    annotations.append(dict(x=px / W, y=1 - py / H, xref="paper", yref="paper", text=t, showarrow=False,
                            xanchor="center", yanchor="middle", font=dict(family=FONT, size=25, color="black")))

# km ticks above and below the section, as shapes on top of everything
shapes = []
for ks, n in ((KM_MAJOR, 16), (KM_MINOR, 8)):
    for k in ks:
        for y0, y1 in ((TOP - 1, TOP - n), (BOT + 1, BOT + n)):
            shapes.append(dict(type="line", xref="x", yref="paper", x0=k, x1=k, y0=1 - y0 / H, y1=1 - y1 / H,
                               line=dict(color="black", width=1.2), layer="above"))

axis_common = dict(showgrid=False, zeroline=False, showline=True, linecolor="black", linewidth=3, mirror="ticks",
                   ticks="outside", tickcolor="black", tickwidth=1, automargin=False, tickformat="d",
                   tickfont=dict(family=FONT, size=23, color="black"))
fig.update_layout(
    width=W, height=H, autosize=False, margin=dict(l=0, r=0, t=0, b=0, autoexpand=False),
    paper_bgcolor="white", plot_bgcolor="rgba(0,0,0,0)", showlegend=False,
    xaxis=dict(domain=[LEFT / W, RIGHT / W], range=[0, 13800], tickmode="linear", tick0=0, dtick=500, ticklen=15,
               ticklabelstandoff=5, minor=dict(dtick=100, tick0=0, ticks="outside", ticklen=7, tickcolor="black", tickwidth=1),
               anchor="y", **axis_common),
    yaxis=dict(domain=[1 - BOT / H, 1 - TOP / H], range=[6500, 0], tickmode="linear", tick0=0, dtick=500, ticklen=14,
               ticklabelstandoff=10, minor=dict(dtick=100, tick0=0, ticks="outside", ticklen=7, tickcolor="black", tickwidth=1),
               anchor="x", **axis_common),
    xaxis2=dict(domain=[LEFT / W, RIGHT / W], range=[0, 13800], visible=False, anchor="y2"),
    yaxis2=dict(domain=[0, 1], range=[row(H), row(0)], visible=False, anchor="x2"),
    annotations=annotations,
    shapes=shapes,
)
fig.write_html("out.html", config=dict(displayModeBar=False),
               post_script="document.body.style.margin='0';document.body.style.overflow='hidden';")
